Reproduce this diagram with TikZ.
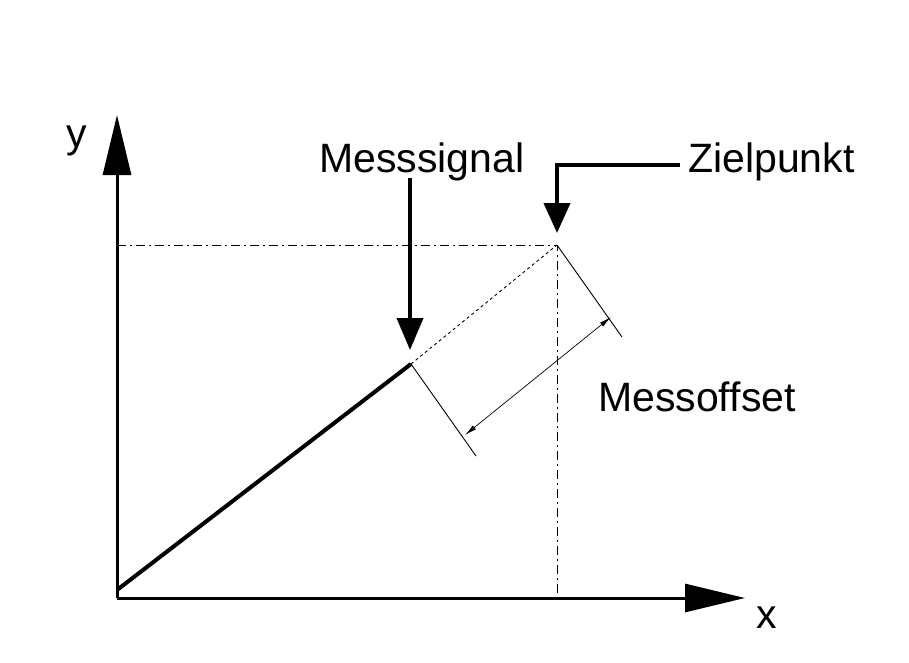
\documentclass[tikz,border=0pt]{standalone}
\usepackage{fontspec}
\setmainfont{Liberation Sans}
\usetikzlibrary{arrows.meta}
\begin{document}
\begin{tikzpicture}[x=1pt,y=-1pt,
  lbl/.style={inner sep=0pt,font=\fontsize{41}{45}\selectfont},
  bigarrow/.style={line width=4pt,-{Triangle[width=26pt,length=32pt]}},
  axis/.style={line width=3pt,-{Triangle[width=28pt,length=60pt]}},
  dimarrow/.style={line width=0.7pt,{Latex[length=12pt,width=5pt]}-{Latex[length=12pt,width=5pt]}},
  thin/.style={line width=0.9pt},
  dd/.style={line width=0.9pt,dash pattern=on 9pt off 4pt on 2pt off 4pt}]
\useasboundingbox (0,0) rectangle (909,663);
\coordinate (O) at (117,598);
\coordinate (yt) at (117,115);
\coordinate (xt) at (745,598);
\coordinate (M) at (411,364);
\coordinate (Z) at (557,245);
\coordinate (yZ) at (117,245);
\coordinate (xZ) at (557,598);
\coordinate (e1) at (476,456);
\coordinate (e2) at (622,337);
\coordinate (d1) at (465,435);
\coordinate (d2) at (611,317);
\coordinate (ms) at (410,178);
\coordinate (mt) at (410,350);
\coordinate (zs) at (680,165);
\coordinate (zc) at (557,165);
\coordinate (zt) at (557,233);
\draw[axis] (O) -- (yt);
\draw[axis] (O) -- (xt);
\draw[line width=4pt] (117,590) -- (M);
\draw[thin,dash pattern=on 3pt off 3pt] (M) -- (Z);
\draw[dd] (yZ) -- (Z) -- (xZ);
\draw[thin] (M) -- (e1);
\draw[thin] (Z) -- (e2);
\draw[dimarrow] (d1) -- (d2);
\draw[bigarrow] (ms) -- (mt);
\draw[line width=4pt,-{Triangle[width=26pt,length=30pt]}] (zs) -- (zc) -- (zt);
\node[lbl,anchor=base west] (ty) at (66,148) {y};
\node[lbl,anchor=base west] (tx) at (756,628) {x};
\node[lbl,anchor=base west] (tm) at (319,172) {Messsignal};
\node[lbl,anchor=base west] (tz) at (688,172) {Zielpunkt};
\node[lbl,anchor=base west] (to) at (598,411) {Messoffset};
\end{tikzpicture}
\end{document}
